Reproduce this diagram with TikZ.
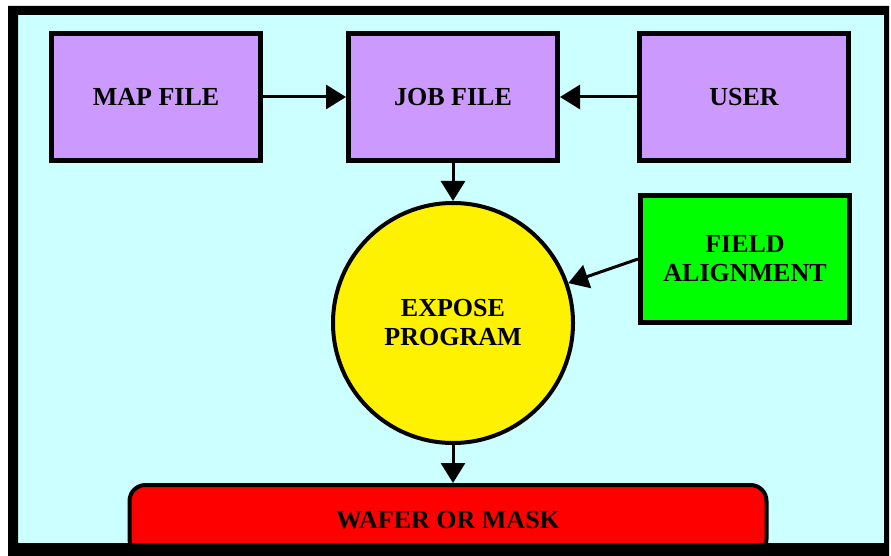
\documentclass[tikz,border=0pt]{standalone}
\usepackage{fontspec}
\setmainfont{Liberation Serif}
\usetikzlibrary{arrows.meta,positioning}
\usepackage{xcolor}
\definecolor{bgcyan}{HTML}{CCFFFF}
\definecolor{boxlilac}{HTML}{CC99FF}
\definecolor{boxgreen}{HTML}{00FF00}

\begin{document}
\begin{tikzpicture}[x=1pt,y=-1pt,node distance=38pt,
  every node/.style={font=\fontsize{26}{29}\selectfont\bfseries},
  filebox/.style={draw,rectangle,line width=5pt,minimum width=209pt,minimum height=127pt,align=center},
  flow/.style={line width=3pt,-{Triangle[length=20pt,width=24pt]}}]
\useasboundingbox (0,0) rectangle (891,556);
\fill[bgcyan] (8,6) rectangle (889,556);

\node[filebox,fill=boxlilac] (job) at (453,97) {JOB FILE};
\node[filebox,fill=boxlilac,left=83pt of job] (map) {MAP FILE};
\node[filebox,fill=boxlilac,right=77pt of job] (user) {USER};

\node[draw,circle,line width=4pt,fill=yellow,minimum size=240pt,align=center,below=38pt of job] (expose) {EXPOSE\\PROGRAM};
\node[filebox,fill=boxgreen] (field) at (745,259) {FIELD\\ALIGNMENT};

\node[draw,rectangle,rounded corners=16pt,line width=4pt,fill=red,minimum width=637pt,minimum height=70pt,below=38pt of expose,xshift=-5pt] (wafer) {WAFER OR MASK};

\draw[flow] (map) -- (job);
\draw[flow] (user) -- (job);
\draw[flow] (job) -- (expose);
\draw[flow] (field.west) -- (expose);
\draw[flow] (expose) -- (expose |- wafer.north);

% black frame on top
\fill[even odd rule] (8,6) rectangle (889,556) (18,15) rectangle (884,543);
\end{tikzpicture}
\end{document}
